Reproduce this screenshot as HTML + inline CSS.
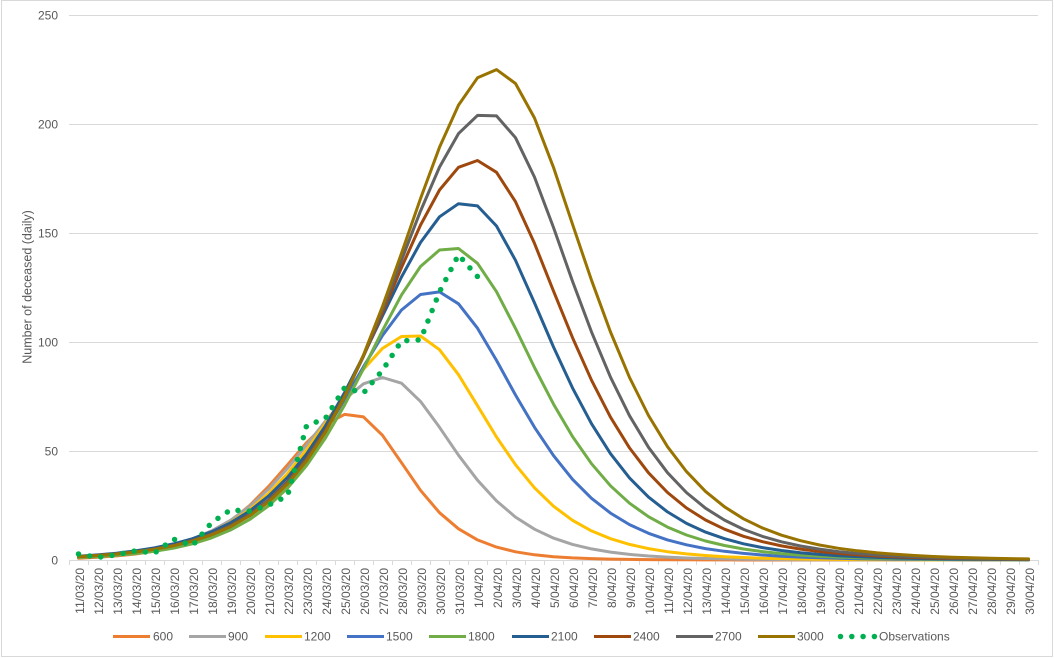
<!DOCTYPE html>
<html><head><meta charset="utf-8">
<style>
html,body{margin:0;padding:0;background:#fff;}
svg{display:block;font-family:"Liberation Sans",Arial,sans-serif;}
</style></head><body>
<svg id="c" width="1054" height="658" viewBox="0 0 1054 658" xmlns="http://www.w3.org/2000/svg">
<rect x="1.5" y="0.5" width="1051" height="656" fill="#fff" stroke="#D9D9D9" stroke-width="1"/>
<g stroke="#D9D9D9" stroke-width="1" fill="none">
<line x1="69" y1="15.5" x2="1038" y2="15.5"/>
<line x1="69" y1="124.5" x2="1038" y2="124.5"/>
<line x1="69" y1="233.5" x2="1038" y2="233.5"/>
<line x1="69" y1="342.5" x2="1038" y2="342.5"/>
<line x1="69" y1="451.5" x2="1038" y2="451.5"/>
<line x1="69" y1="560.5" x2="1038" y2="560.5"/>
<path id="ticks" d=""/>
</g>
<g fill="#595959" font-size="12" text-anchor="end">
<text x="58" y="19.5">250</text>
<text x="58" y="128.5">200</text>
<text x="58" y="237.5">150</text>
<text x="58" y="346.5">100</text>
<text x="58" y="455.5">50</text>
<text x="58" y="564.5">0</text>
</g>
<text transform="translate(31.5,287) rotate(-90)" text-anchor="middle" font-size="12.5" fill="#595959">Number of deceased (daily)</text>
<g fill="#595959" font-size="12" text-anchor="end">
<text transform="translate(84,568) rotate(-90)">11/03/20</text>
<text transform="translate(103,568) rotate(-90)">12/03/20</text>
<text transform="translate(122,568) rotate(-90)">13/03/20</text>
<text transform="translate(141,568) rotate(-90)">14/03/20</text>
<text transform="translate(160,568) rotate(-90)">15/03/20</text>
<text transform="translate(179,568) rotate(-90)">16/03/20</text>
<text transform="translate(198,568) rotate(-90)">17/03/20</text>
<text transform="translate(217,568) rotate(-90)">18/03/20</text>
<text transform="translate(236,568) rotate(-90)">19/03/20</text>
<text transform="translate(255,568) rotate(-90)">20/03/20</text>
<text transform="translate(274,568) rotate(-90)">21/03/20</text>
<text transform="translate(293,568) rotate(-90)">22/03/20</text>
<text transform="translate(312,568) rotate(-90)">23/03/20</text>
<text transform="translate(331,568) rotate(-90)">24/03/20</text>
<text transform="translate(350,568) rotate(-90)">25/03/20</text>
<text transform="translate(369,568) rotate(-90)">26/03/20</text>
<text transform="translate(388,568) rotate(-90)">27/03/20</text>
<text transform="translate(407,568) rotate(-90)">28/03/20</text>
<text transform="translate(426,568) rotate(-90)">29/03/20</text>
<text transform="translate(445,568) rotate(-90)">30/03/20</text>
<text transform="translate(464,568) rotate(-90)">31/03/20</text>
<text transform="translate(483,568) rotate(-90)">1/04/20</text>
<text transform="translate(502,568) rotate(-90)">2/04/20</text>
<text transform="translate(521,568) rotate(-90)">3/04/20</text>
<text transform="translate(540,568) rotate(-90)">4/04/20</text>
<text transform="translate(559,568) rotate(-90)">5/04/20</text>
<text transform="translate(578,568) rotate(-90)">6/04/20</text>
<text transform="translate(597,568) rotate(-90)">7/04/20</text>
<text transform="translate(616,568) rotate(-90)">8/04/20</text>
<text transform="translate(635,568) rotate(-90)">9/04/20</text>
<text transform="translate(654,568) rotate(-90)">10/04/20</text>
<text transform="translate(673,568) rotate(-90)">11/04/20</text>
<text transform="translate(692,568) rotate(-90)">12/04/20</text>
<text transform="translate(711,568) rotate(-90)">13/04/20</text>
<text transform="translate(730,568) rotate(-90)">14/04/20</text>
<text transform="translate(749,568) rotate(-90)">15/04/20</text>
<text transform="translate(768,568) rotate(-90)">16/04/20</text>
<text transform="translate(787,568) rotate(-90)">17/04/20</text>
<text transform="translate(806,568) rotate(-90)">18/04/20</text>
<text transform="translate(825,568) rotate(-90)">19/04/20</text>
<text transform="translate(844,568) rotate(-90)">20/04/20</text>
<text transform="translate(863,568) rotate(-90)">21/04/20</text>
<text transform="translate(882,568) rotate(-90)">22/04/20</text>
<text transform="translate(901,568) rotate(-90)">23/04/20</text>
<text transform="translate(920,568) rotate(-90)">24/04/20</text>
<text transform="translate(939,568) rotate(-90)">25/04/20</text>
<text transform="translate(958,568) rotate(-90)">26/04/20</text>
<text transform="translate(977,568) rotate(-90)">27/04/20</text>
<text transform="translate(996,568) rotate(-90)">28/04/20</text>
<text transform="translate(1015,568) rotate(-90)">29/04/20</text>
<text transform="translate(1034,568) rotate(-90)">30/04/20</text>
</g>
<g id="series" fill="none" stroke-width="3" stroke-linejoin="round" stroke-linecap="round"></g>
<g stroke-width="3" fill="none">
<line x1="113" y1="636.5" x2="150" y2="636.5" stroke="#ED7D31"/>
<line x1="189" y1="636.5" x2="226" y2="636.5" stroke="#A5A5A5"/>
<line x1="265" y1="636.5" x2="302" y2="636.5" stroke="#FFC000"/>
<line x1="347" y1="636.5" x2="384" y2="636.5" stroke="#4472C4"/>
<line x1="429" y1="636.5" x2="466" y2="636.5" stroke="#70AD47"/>
<line x1="512" y1="636.5" x2="549" y2="636.5" stroke="#255E91"/>
<line x1="594" y1="636.5" x2="631" y2="636.5" stroke="#9E480E"/>
<line x1="676" y1="636.5" x2="713" y2="636.5" stroke="#636363"/>
<line x1="758" y1="636.5" x2="795" y2="636.5" stroke="#997300"/>
<line x1="840.5" y1="636.5" x2="876" y2="636.5" stroke="#00B050" stroke-width="5.5" stroke-linecap="round" stroke-dasharray="0 11.3"/>
</g>
<g fill="#595959" font-size="12">
<text x="153" y="640.5">600</text>
<text x="228" y="640.5">900</text>
<text x="304" y="640.5">1200</text>
<text x="386" y="640.5">1500</text>
<text x="468" y="640.5">1800</text>
<text x="551" y="640.5">2100</text>
<text x="633" y="640.5">2400</text>
<text x="715" y="640.5">2700</text>
<text x="797" y="640.5">3000</text>
<text x="879" y="640.5">Observations</text>
</g>
</svg>
<script>
(function(){
  var NS="http://www.w3.org/2000/svg";
  var d="";
  for(var k=0;k<=51;k++){var x=69.5+19*k; d+="M"+x+" 560V565";}
  document.getElementById("ticks").setAttribute("d",d);
  function X(i){return 78.5+19*i;}
  function Y(v){return 560-v*2.18;}
  var P=[
    ['#ED7D31',14.4,67.2,5.0,3.93],
    ['#A5A5A5',16.1,83.75,5.8,5.0],
    ['#FFC000',17.57,103.4,6.2,5.4],
    ['#4472C4',18.7,123.3,6.27,5.9],
    ['#70AD47',19.6,143.5,6.3,6.05],
    ['#255E91',20.4,164,6.9,6.1],
    ['#9E480E',20.9,183.3,6.8,6.3],
    ['#636363',21.5,205,6.89,6.28],
    ['#997300',21.9,225,6.88,6.45]
  ];
  function f(t,p,H,w1,w2){
    var x=t-p;
    var w = x<0 ? w1 : w2*(1+0.007*Math.max(0,x-4));
    var c=Math.cosh(x/w);
    return H/(c*c);
  }
  var g=document.getElementById("series");
  P.forEach(function(s){
    var pts=[];
    for(var i=0;i<=50;i++){
      var v=f(i,s[1],s[2],s[3],s[4]);
      pts.push(X(i).toFixed(1)+","+Y(v).toFixed(1));
    }
    var pl=document.createElementNS(NS,"polyline");
    pl.setAttribute("points",pts.join(" "));
    pl.setAttribute("stroke",s[0]);
    g.appendChild(pl);
  });
  var obs=[2.75,1.2,2.4,4.2,3.2,9.6,6.6,17.1,23,22.4,25.2,29.4,61.5,65,79,76.6,87,100.5,101,123,140,130];
  var op=[];
  for(var i=0;i<obs.length;i++){op.push(X(i).toFixed(1)+","+Y(obs[i]).toFixed(1));}
  var o=document.createElementNS(NS,"polyline");
  o.setAttribute("points",op.join(" "));
  o.setAttribute("stroke","#00B050");
  o.setAttribute("stroke-width","5.5");
  o.setAttribute("stroke-linecap","round");
  o.setAttribute("stroke-dasharray","0 11.3");
  g.appendChild(o);
})();
</script>
</body></html>
